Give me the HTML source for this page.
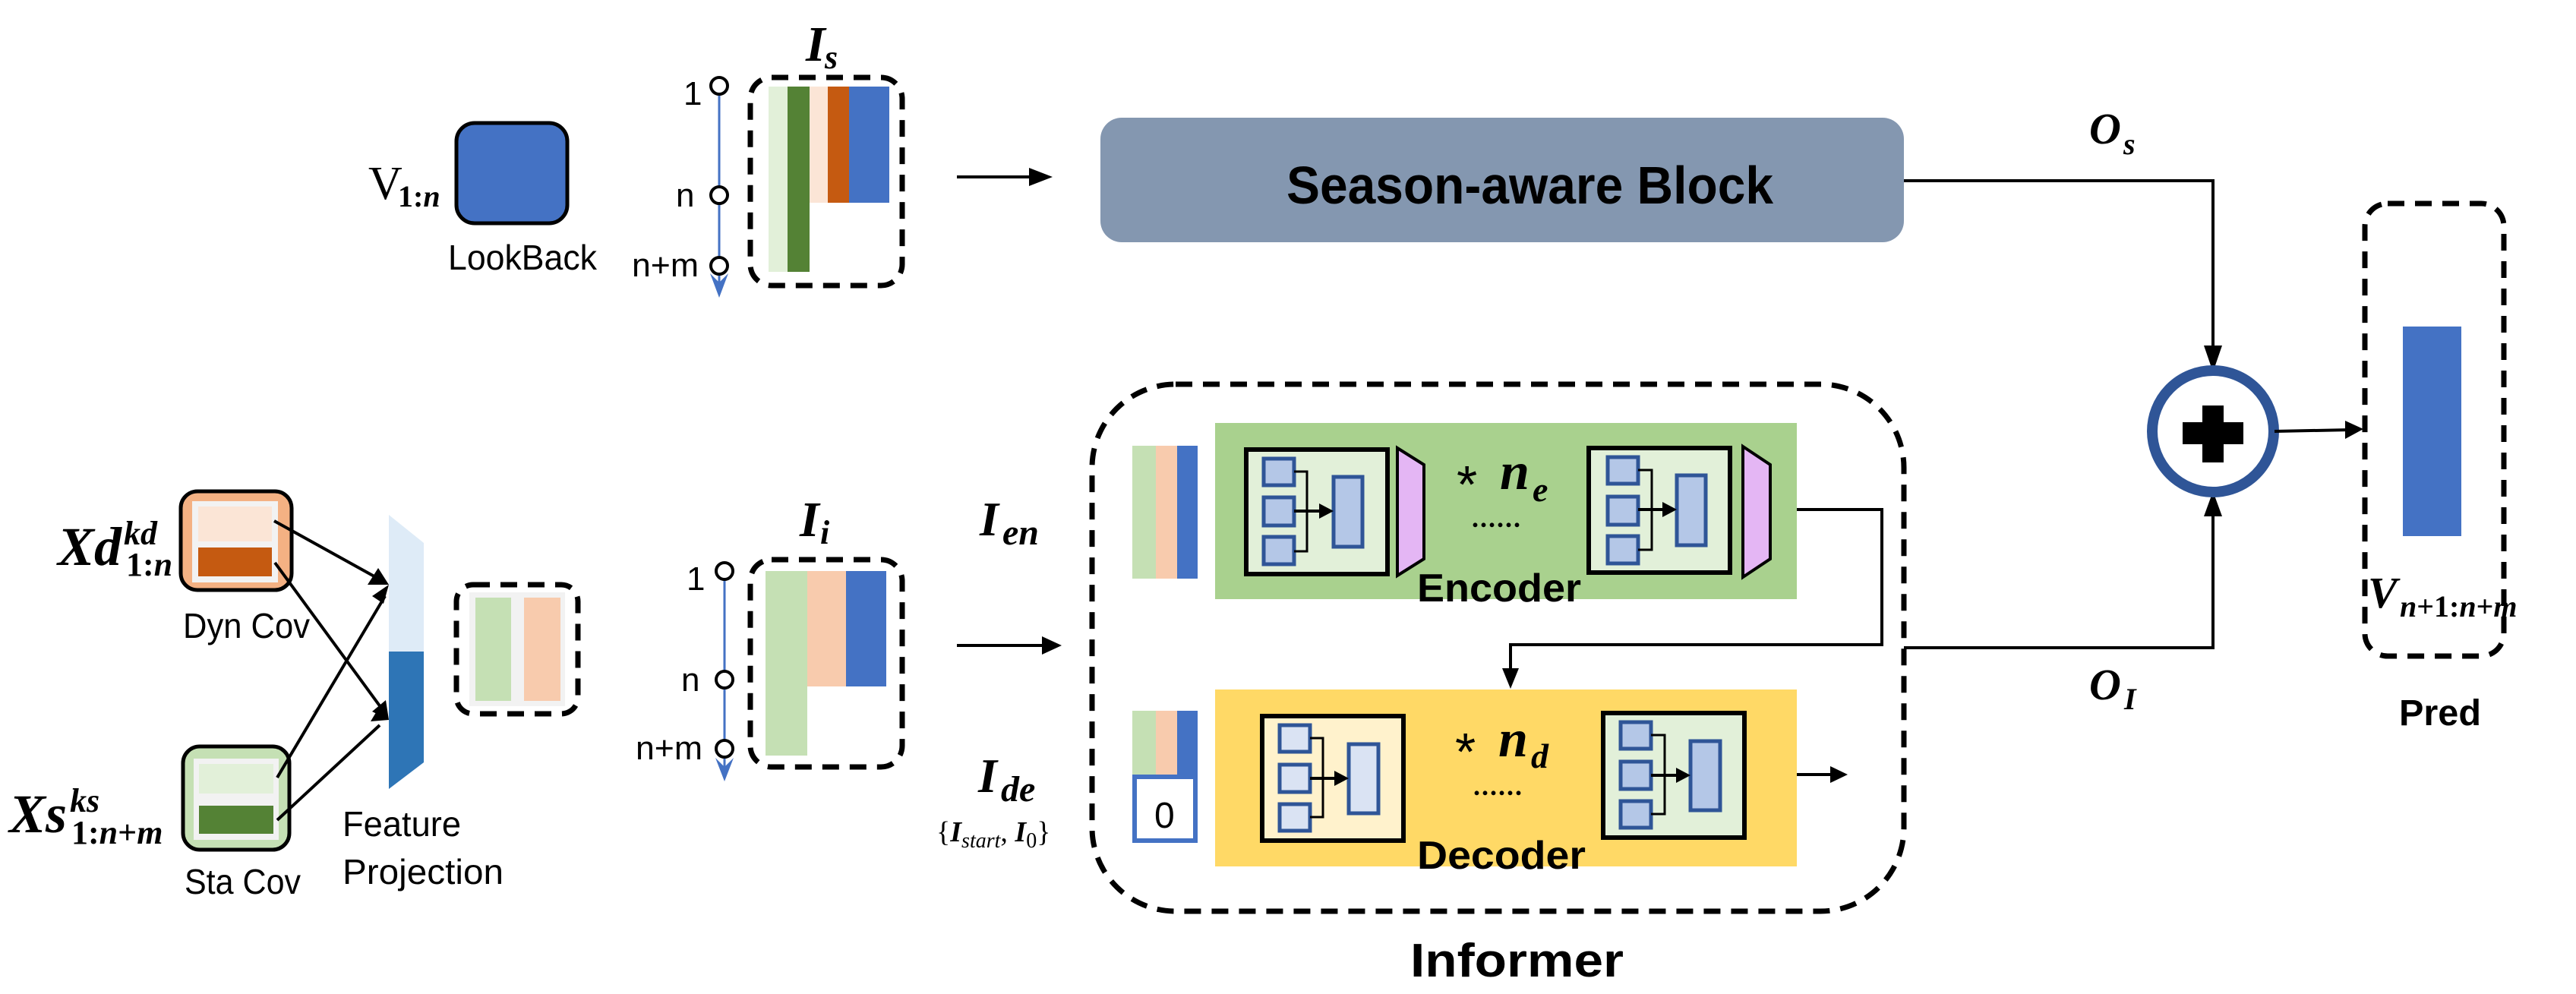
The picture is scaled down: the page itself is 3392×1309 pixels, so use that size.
<!DOCTYPE html>
<html><head><meta charset="utf-8"><style>
html,body{margin:0;padding:0;background:#fff;}
svg{display:block;}
.sans{font-family:"Liberation Sans",sans-serif;}
.m{font-family:"Liberation Serif",serif;font-style:italic;font-weight:bold;}
.u{font-style:normal;}
</style></head><body>
<svg width="3392" height="1309" viewBox="0 0 3392 1309" xmlns="http://www.w3.org/2000/svg">
<rect width="3392" height="1309" fill="#fff"/>

<!-- ===== Top row ===== -->
<text x="485" y="262" font-family="Liberation Serif,serif" font-size="62">V</text>
<text x="524" y="272" class="m" font-size="40"><tspan class="u">1:</tspan>n</text>
<rect x="601" y="162" width="146" height="132" rx="24" fill="#4472C4" stroke="#000" stroke-width="5"/>
<text x="590" y="355" class="sans" font-size="46" textLength="196" lengthAdjust="spacingAndGlyphs">LookBack</text>

<line x1="947" y1="125" x2="947" y2="388" stroke="#4472C4" stroke-width="3"/>
<polygon points="935,360 947,392 959,360 947,372" fill="#4472C4"/>
<circle cx="947" cy="113" r="11" fill="#fff" stroke="#000" stroke-width="4"/>
<circle cx="947" cy="257" r="11" fill="#fff" stroke="#000" stroke-width="4"/>
<circle cx="947" cy="350" r="11" fill="#fff" stroke="#000" stroke-width="4"/>
<text x="900" y="138" class="sans" font-size="44">1</text>
<text x="890" y="272" class="sans" font-size="44">n</text>
<text x="832" y="364" class="sans" font-size="44" textLength="88" lengthAdjust="spacingAndGlyphs">n+m</text>

<text x="1061" y="80" class="m" font-size="66">I</text>
<text x="1086" y="90" class="m" font-size="44">s</text>
<rect x="988" y="102" width="200" height="274" rx="28" fill="none" stroke="#000" stroke-width="7" stroke-dasharray="22 14"/>
<rect x="1012" y="114" width="25" height="244" fill="#E2F0D9"/>
<rect x="1037" y="114" width="29" height="244" fill="#548235"/>
<rect x="1066" y="114" width="24" height="153" fill="#FBE5D6"/>
<rect x="1090" y="114" width="28" height="153" fill="#C55A11"/>
<rect x="1118" y="114" width="53" height="153" fill="#4472C4"/>

<line x1="1260" y1="233" x2="1360" y2="233" stroke="#000" stroke-width="4"/>
<polygon points="1355,221 1386,233 1355,245" fill="#000"/>

<rect x="1449" y="155" width="1058" height="164" rx="28" fill="#8497B0"/>
<text x="1694" y="268" class="sans" font-size="70" font-weight="bold" textLength="641" lengthAdjust="spacingAndGlyphs">Season-aware Block</text>

<polyline points="2507,238 2914,238 2914,470" fill="none" stroke="#000" stroke-width="4"/>
<polygon points="2902,455 2914,490 2926,455" fill="#000"/>
<text x="2751" y="189" class="m" font-size="58">O</text>
<text x="2796" y="203" class="m" font-size="40">s</text>

<!-- ===== Bottom-left ===== -->
<text x="76" y="744" class="m" font-size="72">Xd</text>
<text x="163" y="717" class="m" font-size="44">kd</text>
<text x="166" y="758" class="m" font-size="44"><tspan class="u">1:</tspan>n</text>
<rect x="238" y="647" width="146" height="130" rx="22" fill="#F4B183" stroke="#000" stroke-width="5"/>
<rect x="253" y="660" width="113" height="107" fill="#F2F2F2"/>
<rect x="261" y="667" width="97" height="46" fill="#FBE5D6"/>
<rect x="261" y="721" width="97" height="38" fill="#C55A11"/>
<text x="241" y="840" class="sans" font-size="46" textLength="167" lengthAdjust="spacingAndGlyphs">Dyn Cov</text>

<text x="12" y="1096" class="m" font-size="72">Xs</text>
<text x="92" y="1069" class="m" font-size="44">ks</text>
<text x="94" y="1111" class="m" font-size="44"><tspan class="u">1:</tspan>n<tspan class="u">+</tspan>m</text>
<rect x="241" y="983" width="140" height="136" rx="22" fill="#C5E0B4" stroke="#000" stroke-width="5"/>
<rect x="255" y="999" width="112" height="107" fill="#F2F2F2"/>
<rect x="262" y="1006" width="98" height="39" fill="#E2F0D9"/>
<rect x="262" y="1061" width="98" height="37" fill="#548235"/>
<text x="243" y="1177" class="sans" font-size="46" textLength="153" lengthAdjust="spacingAndGlyphs">Sta Cov</text>

<polygon points="512,678 558,715 558,858 512,858" fill="#DEEBF7"/>
<polygon points="512,858 558,858 558,1004 512,1039" fill="#2E75B6"/>
<text x="451" y="1101" class="sans" font-size="46" textLength="156" lengthAdjust="spacingAndGlyphs">Feature</text>
<text x="451" y="1164" class="sans" font-size="46" textLength="212" lengthAdjust="spacingAndGlyphs">Projection</text>

<g stroke="#000" stroke-width="4">
<line x1="361" y1="686" x2="500" y2="763"/>
<line x1="362" y1="741" x2="504" y2="935"/>
<line x1="365" y1="1024" x2="507" y2="785"/>
<line x1="365" y1="1080" x2="500" y2="955"/>
</g>
<polygon points="512,770 484,770 498,748" fill="#000"/>
<polygon points="512,948 490,937 508,922" fill="#000"/>
<polygon points="512,770 505,795 490,785" fill="#000"/>
<polygon points="512,948 488,950 500,930" fill="#000"/>

<rect x="601" y="770" width="160" height="170" rx="22" fill="none" stroke="#000" stroke-width="7" stroke-dasharray="22 14"/>
<rect x="618" y="780" width="126" height="150" fill="#F2F2F2"/>
<rect x="626" y="787" width="47" height="136" fill="#C5E0B4"/>
<rect x="690" y="787" width="48" height="136" fill="#F8CBAD"/>

<line x1="954" y1="762" x2="954" y2="1025" stroke="#4472C4" stroke-width="3"/>
<polygon points="942,998 954,1029 966,998 954,1010" fill="#4472C4"/>
<circle cx="954" cy="752" r="11" fill="#fff" stroke="#000" stroke-width="4"/>
<circle cx="954" cy="895" r="11" fill="#fff" stroke="#000" stroke-width="4"/>
<circle cx="954" cy="986" r="11" fill="#fff" stroke="#000" stroke-width="4"/>
<text x="904" y="777" class="sans" font-size="44">1</text>
<text x="897" y="910" class="sans" font-size="44">n</text>
<text x="837" y="1000" class="sans" font-size="44" textLength="88" lengthAdjust="spacingAndGlyphs">n+m</text>

<text x="1053" y="706" class="m" font-size="66">I</text>
<text x="1080" y="716" class="m" font-size="44">i</text>
<rect x="988" y="737" width="200" height="273" rx="28" fill="none" stroke="#000" stroke-width="7" stroke-dasharray="22 14"/>
<rect x="1008" y="752" width="55" height="243" fill="#C5E0B4"/>
<rect x="1063" y="752" width="51" height="152" fill="#F8CBAD"/>
<rect x="1114" y="752" width="53" height="152" fill="#4472C4"/>

<line x1="1260" y1="850" x2="1375" y2="850" stroke="#000" stroke-width="4"/>
<polygon points="1372,838 1398,850 1372,862" fill="#000"/>

<text x="1290" y="705" class="m" font-size="64">I</text>
<text x="1320" y="717" class="m" font-size="48">en</text>
<text x="1288" y="1043" class="m" font-size="64">I</text>
<text x="1318" y="1055" class="m" font-size="48">de</text>
<text x="1233" y="1108" font-family="Liberation Serif,serif" font-size="38">{<tspan font-style="italic" font-weight="bold">I</tspan><tspan font-style="italic" font-size="28" dy="8">start</tspan><tspan dy="-8">, </tspan><tspan font-style="italic" font-weight="bold">I</tspan><tspan font-size="28" dy="8">0</tspan><tspan dy="-8">}</tspan></text>

<!-- ===== Informer ===== -->
<rect x="1438" y="506" width="1069" height="694" rx="110" fill="none" stroke="#000" stroke-width="7" stroke-dasharray="22 14"/>
<rect x="1491" y="587" width="31" height="175" fill="#C5E0B4"/>
<rect x="1522" y="587" width="28" height="175" fill="#F8CBAD"/>
<rect x="1550" y="587" width="27" height="175" fill="#4472C4"/>

<rect x="1600" y="557" width="766" height="232" fill="#A9D18E"/>
<g>
<rect x="1641" y="592" width="186" height="164" fill="#E2F0D9" stroke="#000" stroke-width="6"/>
<rect x="1664" y="604" width="40" height="35" fill="#B4C7E7" stroke="#2F5597" stroke-width="5"/>
<rect x="1664" y="655" width="40" height="37" fill="#B4C7E7" stroke="#2F5597" stroke-width="5"/>
<rect x="1664" y="707" width="40" height="36" fill="#B4C7E7" stroke="#2F5597" stroke-width="5"/>
<rect x="1756" y="628" width="38" height="92" fill="#B4C7E7" stroke="#2F5597" stroke-width="5"/>
<polyline points="1704,621 1721,621 1721,726 1704,726" fill="none" stroke="#000" stroke-width="3"/>
<line x1="1704" y1="673" x2="1740" y2="673" stroke="#000" stroke-width="4"/>
<polygon points="1737,663 1756,673 1737,683" fill="#000"/>
<polygon points="1840,590 1875,612 1875,736 1840,758" fill="#E4B6F4" stroke="#000" stroke-width="4"/>
</g>
<g>
<rect x="2092" y="590" width="186" height="164" fill="#E2F0D9" stroke="#000" stroke-width="6"/>
<rect x="2117" y="602" width="40" height="35" fill="#B4C7E7" stroke="#2F5597" stroke-width="5"/>
<rect x="2117" y="654" width="40" height="37" fill="#B4C7E7" stroke="#2F5597" stroke-width="5"/>
<rect x="2117" y="706" width="40" height="36" fill="#B4C7E7" stroke="#2F5597" stroke-width="5"/>
<rect x="2208" y="626" width="38" height="92" fill="#B4C7E7" stroke="#2F5597" stroke-width="5"/>
<polyline points="2157,619 2175,619 2175,724 2157,724" fill="none" stroke="#000" stroke-width="3"/>
<line x1="2157" y1="671" x2="2192" y2="671" stroke="#000" stroke-width="4"/>
<polygon points="2189,661 2208,671 2189,681" fill="#000"/>
<polygon points="2295,588 2331,612 2331,736 2295,760" fill="#E4B6F4" stroke="#000" stroke-width="4"/>
</g>
<text x="1918" y="662" font-family="Liberation Sans,sans-serif" font-size="70">*</text>
<text x="1975" y="644" class="m" font-size="70">n</text>
<text x="2018" y="660" class="m" font-size="46">e</text>
<text x="1938" y="694" font-family="Liberation Serif,serif" font-size="36" font-weight="bold" letter-spacing="2">......</text>
<text x="1866" y="792" class="sans" font-size="52" font-weight="bold" textLength="216" lengthAdjust="spacingAndGlyphs">Encoder</text>

<polyline points="2366,671 2478,671 2478,849 1989,849 1989,890" fill="none" stroke="#000" stroke-width="4"/>
<polygon points="1978,880 1989,907 2000,880" fill="#000"/>

<rect x="1600" y="908" width="766" height="233" fill="#FFD966"/>
<rect x="1491" y="936" width="31" height="84" fill="#C5E0B4"/>
<rect x="1522" y="936" width="28" height="84" fill="#F8CBAD"/>
<rect x="1550" y="936" width="27" height="84" fill="#4472C4"/>
<rect x="1494" y="1023" width="80" height="84" fill="#fff" stroke="#4472C4" stroke-width="6"/>
<text x="1520" y="1090" class="sans" font-size="48">0</text>

<g>
<rect x="1662" y="943" width="186" height="164" fill="#FFF2CC" stroke="#000" stroke-width="6"/>
<rect x="1685" y="955" width="40" height="35" fill="#DAE3F3" stroke="#2F5597" stroke-width="5"/>
<rect x="1685" y="1007" width="40" height="36" fill="#DAE3F3" stroke="#2F5597" stroke-width="5"/>
<rect x="1685" y="1059" width="40" height="35" fill="#DAE3F3" stroke="#2F5597" stroke-width="5"/>
<rect x="1776" y="980" width="39" height="91" fill="#DAE3F3" stroke="#2F5597" stroke-width="5"/>
<polyline points="1725,972 1742,972 1742,1076 1725,1076" fill="none" stroke="#000" stroke-width="3"/>
<line x1="1725" y1="1025" x2="1760" y2="1025" stroke="#000" stroke-width="4"/>
<polygon points="1757,1015 1776,1025 1757,1035" fill="#000"/>
</g>
<g>
<rect x="2111" y="939" width="186" height="164" fill="#E2F0D9" stroke="#000" stroke-width="6"/>
<rect x="2134" y="951" width="40" height="35" fill="#B4C7E7" stroke="#2F5597" stroke-width="5"/>
<rect x="2134" y="1003" width="40" height="36" fill="#B4C7E7" stroke="#2F5597" stroke-width="5"/>
<rect x="2134" y="1055" width="40" height="35" fill="#B4C7E7" stroke="#2F5597" stroke-width="5"/>
<rect x="2226" y="976" width="39" height="91" fill="#B4C7E7" stroke="#2F5597" stroke-width="5"/>
<polyline points="2174,968 2192,968 2192,1072 2174,1072" fill="none" stroke="#000" stroke-width="3"/>
<line x1="2174" y1="1021" x2="2210" y2="1021" stroke="#000" stroke-width="4"/>
<polygon points="2207,1011 2226,1021 2207,1031" fill="#000"/>
</g>
<text x="1916" y="1014" font-family="Liberation Sans,sans-serif" font-size="70">*</text>
<text x="1973" y="996" class="m" font-size="70">n</text>
<text x="2016" y="1011" class="m" font-size="46">d</text>
<text x="1940" y="1047" font-family="Liberation Serif,serif" font-size="36" font-weight="bold" letter-spacing="2">......</text>
<text x="1866" y="1144" class="sans" font-size="52" font-weight="bold" textLength="222" lengthAdjust="spacingAndGlyphs">Decoder</text>

<line x1="2366" y1="1020" x2="2415" y2="1020" stroke="#000" stroke-width="4"/>
<polygon points="2410,1009 2433,1020 2410,1031" fill="#000"/>

<text x="1857" y="1286" class="sans" font-size="62" font-weight="bold" textLength="281" lengthAdjust="spacingAndGlyphs">Informer</text>

<polyline points="2507,853 2914,853 2914,665" fill="none" stroke="#000" stroke-width="4"/>
<polygon points="2902,680 2914,647 2926,680" fill="#000"/>
<text x="2751" y="921" class="m" font-size="58">O</text>
<text x="2797" y="934" class="m" font-size="40">I</text>

<circle cx="2914" cy="568" r="80" fill="#fff" stroke="#2F5597" stroke-width="14"/>
<rect x="2900" y="534" width="28" height="75" fill="#000"/>
<rect x="2874" y="556" width="80" height="29" fill="#000"/>
<line x1="2995" y1="568" x2="3095" y2="566" stroke="#000" stroke-width="4"/>
<polygon points="3088,554 3112,565 3088,578" fill="#000"/>

<rect x="3114" y="268" width="183" height="596" rx="30" fill="none" stroke="#000" stroke-width="7" stroke-dasharray="22 14"/>
<rect x="3164" y="430" width="77" height="276" fill="#4472C4"/>
<text x="3118" y="800" class="m" font-size="58">V</text>
<text x="3160" y="812" class="m" font-size="40">n<tspan class="u">+1:</tspan>n<tspan class="u">+</tspan>m</text>
<text x="3159" y="955" class="sans" font-size="48" font-weight="bold" textLength="108" lengthAdjust="spacingAndGlyphs">Pred</text>
</svg>
</body></html>
